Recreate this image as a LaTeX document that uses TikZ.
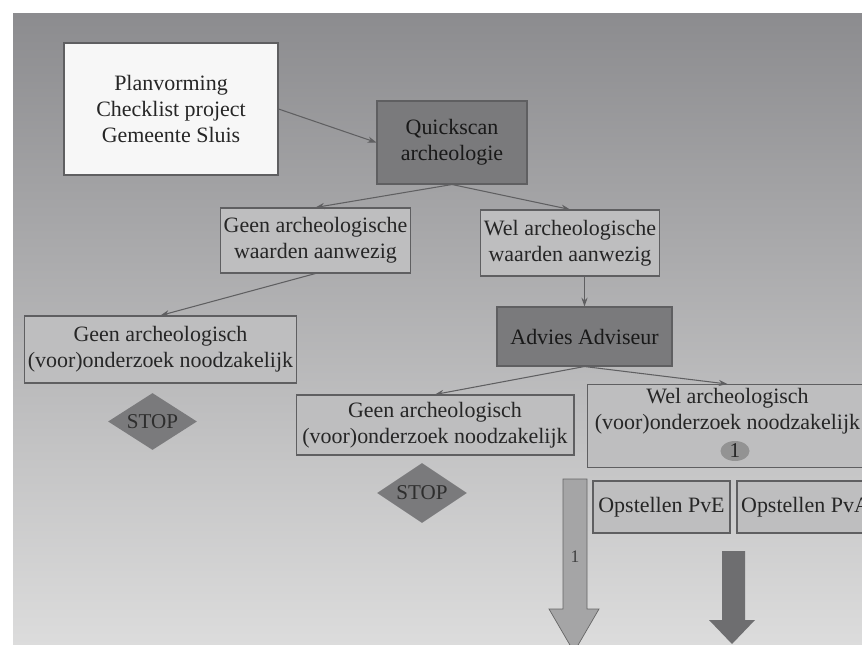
\documentclass[tikz,border=0pt]{standalone}
\usepackage{fontspec}
\setmainfont{Liberation Serif}
\usetikzlibrary{arrows.meta,shapes.geometric,positioning}

\definecolor{bgtop}{RGB}{140,140,143}
\definecolor{bgmid}{RGB}{190,190,191}
\definecolor{bgbot}{RGB}{220,220,220}
\definecolor{boxfill}{RGB}{190,190,191}
\definecolor{darkfill}{RGB}{122,122,124}
\definecolor{linegray}{RGB}{95,95,97}
\definecolor{arrowlight}{RGB}{165,165,166}
\definecolor{arrowdark}{RGB}{110,110,112}

\tikzset{
  box/.style={rectangle,draw=linegray,line width=0.6pt,fill=boxfill,align=center,
    font=\fontsize{12.5}{15}\selectfont,text=black!85,inner sep=2pt},
  darkbox/.style={box,fill=darkfill,text=black!90},
  stopsign/.style={diamond,fill=darkfill,inner sep=0pt,aspect=1.5,
    font=\fontsize{12}{14}\selectfont,text=black!82},
  link/.style={draw=linegray,line width=0.6pt,-{Stealth[length=5pt,width=3.5pt]}},
}

\begin{document}
\begin{tikzpicture}[x=0.02cm,y=-0.02cm]
\useasboundingbox (0,0) rectangle (862,645);
\clip (0,0) rectangle (862,645);

% background
\fill[white] (0,0) rectangle (862,645);
\shade[top color=bgtop,middle color=bgmid,bottom color=bgbot] (13,14) rectangle (862,645);

% top part
\node[box,fill=white!94!gray,minimum width=4.28cm,minimum height=2.64cm] (plan) at (171,109)
  {Planvorming\\Checklist project\\Gemeente Sluis};
\node[darkbox,minimum width=3.0cm,minimum height=1.66cm] (quick) at (452,142.5)
  {Quickscan\\archeologie};
\node[box,minimum width=3.78cm,minimum height=1.30cm] (geenw) at (315.5,240.5)
  {Geen archeologische\\waarden aanwezig};
\node[box,minimum width=3.32cm,minimum height=1.32cm] (welw) at (570,243)
  {Wel archeologische\\waarden aanwezig};

% left branch
\node[box,minimum width=5.42cm,minimum height=1.34cm] (geenok) at (160.5,349.5)
  {Geen archeologisch\\(voor)onderzoek noodzakelijk};
\node[stopsign,minimum width=1.78cm,minimum height=1.14cm] (stopa) at (152.5,421.5) {STOP};

% right branch
\node[darkbox,minimum width=3.5cm,minimum height=1.18cm] (advies) at (584.5,336.5)
  {Advies Adviseur};
\node[box,minimum width=5.56cm,minimum height=1.2cm] (geenokb) at (435,425)
  {Geen archeologisch\\(voor)onderzoek noodzakelijk};
\node[stopsign,minimum width=1.8cm,minimum height=1.2cm] (stopb) at (422,493) {STOP};
\node[box,minimum width=5.62cm,minimum height=1.64cm] (welok) at (727.5,426)
  {Wel archeologisch\\(voor)onderzoek noodzakelijk\\\strut};
\node[ellipse,fill=gray!85!white,inner sep=0pt,minimum width=0.58cm,minimum height=0.4cm,
  font=\fontsize{12}{14}\selectfont,text=black!85] (one) at (735,451) {1};
\node[box,minimum width=2.74cm,minimum height=1.04cm] (pve) at (661.5,507) {Opstellen PvE};
\node[box,minimum width=2.74cm,minimum height=1.04cm] (pva) at (805.5,507) {Opstellen PvA};

% connectors
\draw[link] (plan.east) -- (quick.west);
\draw[link] (quick.south) -- (geenw.north);
\draw[link] (quick.south) -- (welw.north);
\draw[link] (geenw.south) -- (geenok.north);
\draw[link] (advies.north |- welw.south) -- (advies.north);
\draw[link] (advies.south) -- (geenokb.north);
\draw[link] (advies.south) -- (welok.north);

% block arrows
\filldraw[fill=arrowlight,draw=gray!80!black,line width=0.4pt]
  (563,479) -- (587,479) -- (587,609) -- (599,609) -- (574,652) -- (549,609) -- (563,609) -- cycle;
\node[font=\fontsize{10}{12}\selectfont,text=black!75] (arrlabel) at (575,557) {1};
\fill[arrowdark]
  (722,551) -- (745,551) -- (745,620) -- (755,620) -- (732,644) -- (709,620) -- (722,620) -- cycle;
\end{tikzpicture}
\end{document}
